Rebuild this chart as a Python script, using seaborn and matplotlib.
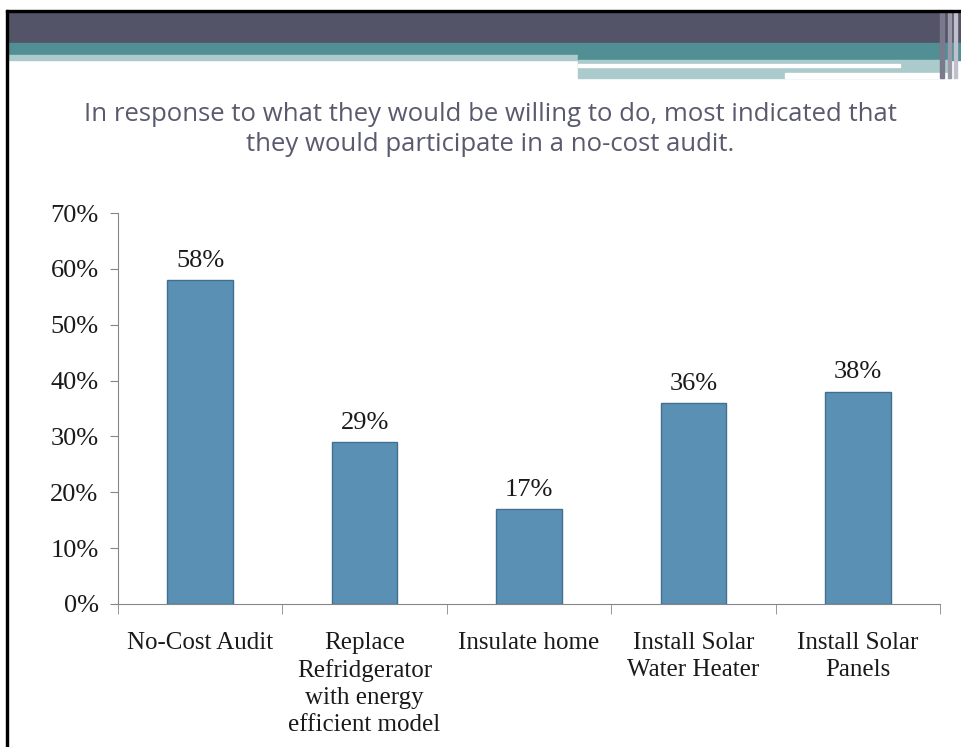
import seaborn as sns
import matplotlib.pyplot as plt
from matplotlib.patches import Rectangle
from matplotlib.ticker import FixedLocator, PercentFormatter

categories = ["No-Cost Audit", "Replace\nRefridgerator\nwith energy\nefficient model",
              "Insulate home", "Install Solar\nWater Heater", "Install Solar\nPanels"]
values = [58, 29, 17, 36, 38]
yticks = [0, 10, 20, 30, 40, 50, 60, 70]
title = ("In response to what they would be willing to do, most indicated that\n"
         "they would participate in a no-cost audit.")

sns.set_style("white")
plt.rcParams['font.family'] = ['Liberation Serif', 'DejaVu Serif']

W, H = 961, 747
fig = plt.figure(figsize=(W / 100, H / 100), dpi=100)


def band(x0, y0, x1, y1, color):
    # slide header decoration, pixel coords from the top-left corner
    fig.patches.append(Rectangle((x0 / W, 1 - y1 / H), (x1 - x0) / W, (y1 - y0) / H,
                                 transform=fig.transFigure, color=color, zorder=0))


band(8, 12, W, 43, "#535468")
band(8, 43, W, 55, "#528F95")
band(8, 55, 578, 60, "#AACACB")
band(578, 55, W, 60, "#528F95")
band(578, 60, 950, 78, "#AACACB")
band(578, 64, 900, 67, "#FFFFFF")
band(785, 73, 950, 78, "#FFFFFF")
band(940, 12, 944, 78, "#7A7A8C")
band(948, 12, 951, 78, "#9A9AAA")
band(954, 12, 957, 78, "#C0C0CC")
band(6, 10, W, 12, "#000000")
band(6, 10, 8, H, "#000000")

fig.text(0.51, 1 - 102 / H, title, ha="center", va="top", fontsize=18.5,
         family=["Open Sans", "DejaVu Sans"], color="#5A5A6E", linespacing=1.25)

ax = fig.add_axes([118 / W, 1 - 604 / H, (940 - 118) / W, (604 - 213) / H])
sns.barplot(x=categories, y=values, color="#5B90B5", width=0.4, saturation=1,
            edgecolor="#41708F", linewidth=1, ax=ax)
ax.bar_label(ax.containers[0], labels=[f"{v}%" for v in values], padding=6,
             fontsize=19, color="#1A1A1A")

ax.set_xlim(-0.5, len(categories) - 0.5)
ax.set_ylim(0, 70)
ax.set_yticks(yticks)
ax.yaxis.set_major_formatter(PercentFormatter(decimals=0))
ax.xaxis.set_minor_locator(FixedLocator([i - 0.5 for i in range(len(categories) + 1)]))
ax.tick_params(axis="x", which="major", length=0, pad=20, labelsize=18, colors="#1A1A1A")
ax.tick_params(axis="x", which="minor", length=7, color="#868686", bottom=True)
ax.tick_params(axis="y", length=6, color="#868686", left=True, labelsize=19,
               labelcolor="#1A1A1A", pad=8)
for lbl in ax.get_xticklabels():
    lbl.set_linespacing(1.3)
sns.despine(ax=ax)
for s in ("left", "bottom"):
    ax.spines[s].set_color("#868686")
ax.set_xlabel("")
ax.set_ylabel("")

fig.savefig("out.png", dpi=100)
